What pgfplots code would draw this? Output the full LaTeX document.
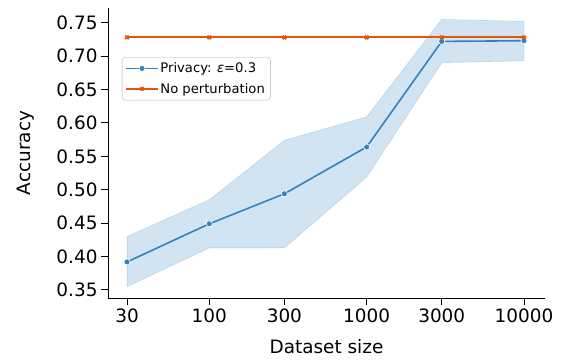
\documentclass[border=0pt]{standalone}
\usepackage{pgfplots}
\pgfplotsset{compat=1.18}
\usepgfplotslibrary{fillbetween}
\usepackage{fontspec}
\setmainfont{DejaVu Sans}
\definecolor{cblue}{RGB}{49,130,189}
\definecolor{corange}{RGB}{230,85,13}
\begin{document}
\begin{tikzpicture}
\begin{axis}[
  scale only axis,
  width=437bp, height=290bp,
  xmode=log,
  xmin=22.7, xmax=13600,
  ymin=0.338, ymax=0.772,
  axis lines*=left,
  axis line style={line width=1pt},
  xtick={30,100,300,1000,3000,10000},
  xticklabels={30,100,300,1000,3000,10000},
  ytick={0.35,0.40,...,0.76},
  yticklabel style={/pgf/number format/.cd,fixed,fixed zerofill,precision=2},
  /pgf/number format/assume math mode=true,
  tick align=outside,
  major tick length=7bp,
  minor tick length=4bp,
  tick style={black, line width=1pt},
  minor tick style={black, line width=0.7pt},
  ticklabel style={font=\fontsize{18.5}{20}\selectfont},
  xlabel={Dataset size},
  ylabel={Accuracy},
  label style={font=\fontsize{18.5}{20}\selectfont},
  xlabel style={yshift=-10bp},
  ylabel style={yshift=15bp},
  legend style={at={(0.032,0.831)}, anchor=north west, font=\fontsize{13.2}{15}\selectfont,
    draw=gray!60, rounded corners=3pt, row sep=5pt, inner sep=3.5pt},
  legend cell align=left,
  legend image code/.code={\draw[line width=1.6pt, mark repeat=2,mark phase=2] plot coordinates {(0cm,0cm) (0.55cm,0cm) (1.1cm,0cm)};},
]
\addplot[name path=upper, draw=none, forget plot] coordinates {
 (30,0.430) (100,0.485) (300,0.574) (1000,0.609) (3000,0.755) (10000,0.752)};
\addplot[name path=lower, draw=none, forget plot] coordinates {
 (30,0.355) (100,0.413) (300,0.413) (1000,0.519) (3000,0.690) (10000,0.693)};
\addplot[cblue, fill opacity=0.22, draw opacity=0.3, draw=cblue, forget plot] fill between[of=upper and lower];
\addplot[draw=cblue, line width=1.6pt, mark=*, mark size=3pt, mark options={draw=white, line width=0.6pt, fill=cblue}] coordinates {
 (30,0.392) (100,0.449) (300,0.494) (1000,0.564) (3000,0.722) (10000,0.723)};
\addlegendentry{Privacy: \textit{ε}=0.3}
\addplot[draw=corange, line width=1.8pt, mark=x, mark size=2.5pt, mark options={draw=corange, line width=1.8pt}] coordinates {
 (30,0.728) (100,0.728) (300,0.728) (1000,0.728) (3000,0.728) (10000,0.728)};
\addlegendentry{No perturbation}
\end{axis}
\path (current axis.south west) ++(-108bp,-66bp) rectangle ++(568bp,364bp);
\end{tikzpicture}
\end{document}
